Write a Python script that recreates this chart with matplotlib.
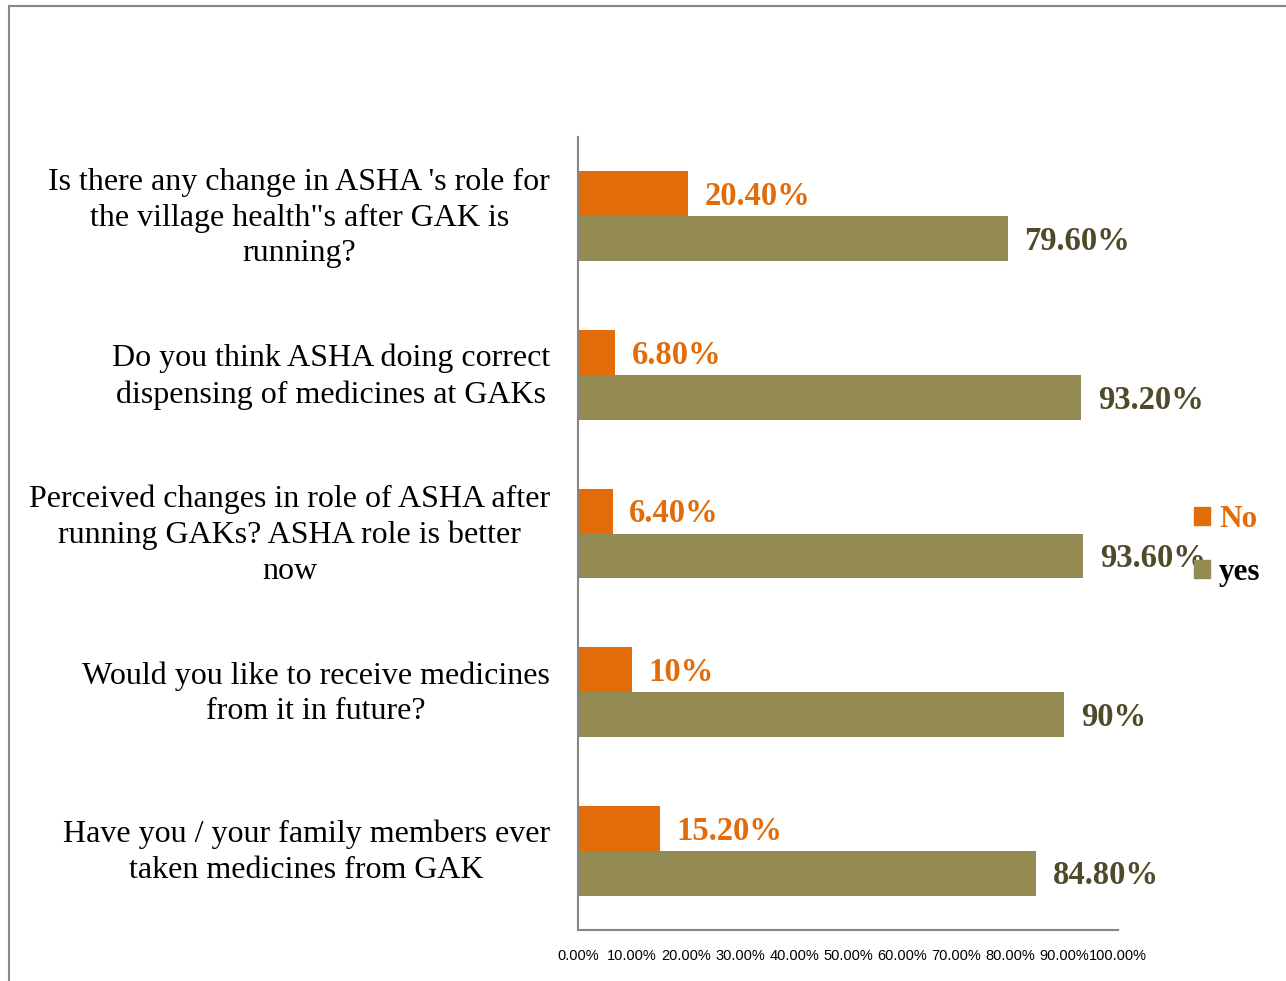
import matplotlib
matplotlib.use("Agg")
import matplotlib.pyplot as plt
import matplotlib.transforms as mtransforms
from matplotlib.patches import Patch
from matplotlib.lines import Line2D
import numpy as np

# datos (de arriba hacia abajo)
preguntas = [
    "Is there any change in ASHA 's role for\nthe village health\"s after GAK is\nrunning?",
    "Do you think ASHA doing correct\ndispensing of medicines at GAKs",
    "Perceived changes in role of ASHA after\nrunning GAKs? ASHA role is better\nnow",
    "Would you like to receive medicines\nfrom it in future?",
    "Have you / your family members ever\ntaken medicines from GAK",
]
no_vals = [0.204, 0.068, 0.064, 0.10, 0.152]
yes_vals = [0.796, 0.932, 0.936, 0.90, 0.848]
no_labels = ["20.40%", "6.80%", "6.40%", "10%", "15.20%"]
yes_labels = ["79.60%", "93.20%", "93.60%", "90%", "84.80%"]
x_ticks = np.arange(0, 1.01, 0.1)
x_tick_labels = ["0.00%", "10.00%", "20.00%", "30.00%", "40.00%", "50.00%",
                 "60.00%", "70.00%", "80.00%", "90.00%", "100.00%"]

c_no = "#E36C0A"
c_yes = "#948A54"
c_yes_txt = "#4F4A2A"
serif = ["Liberation Serif", "DejaVu Serif"]

W, H = 1286, 981
fig = plt.figure(figsize=(W / 100, H / 100), dpi=100)
ax = fig.add_axes([578 / W, 1 - 930 / H, 540 / W, 793 / H])

y = np.arange(len(preguntas))
alto = 45 / 159
ax.barh(y - alto / 2, no_vals, height=alto, color=c_no, label="No")
ax.barh(y + alto / 2, yes_vals, height=alto, color=c_yes, label="yes")

# etiquetas de los valores
for i in range(len(preguntas)):
    ax.annotate(no_labels[i], xy=(no_vals[i], y[i] - alto / 2), xytext=(12, -2),
                textcoords="offset points", va="center", ha="left",
                fontsize=23.5, fontweight="bold", color=c_no, family=serif)
    ax.annotate(yes_labels[i], xy=(yes_vals[i], y[i] + alto / 2), xytext=(12, -2),
                textcoords="offset points", va="center", ha="left",
                fontsize=23.5, fontweight="bold", color=c_yes_txt, family=serif)

ax.set_ylim(len(preguntas) - 0.5, -0.5)
ax.set_xlim(0, 1)
ax.set_yticks(y)
ax.set_yticklabels(preguntas, fontsize=23, family=serif, ma="center", linespacing=1.3)
ax.set_xticks(x_ticks)
ax.set_xticklabels(x_tick_labels, fontsize=10.5, family="Liberation Sans")
ax.tick_params(axis="y", length=0, pad=20)
ax.tick_params(axis="x", length=0, pad=14)

# subir un poco las etiquetas de las preguntas
subir = mtransforms.ScaledTranslation(0, 5 / 100, fig.dpi_scale_trans)
for lbl in ax.get_yticklabels():
    lbl.set_transform(lbl.get_transform() + subir)

for s in ["top", "right"]:
    ax.spines[s].set_visible(False)
for s in ["left", "bottom"]:
    ax.spines[s].set_color("#868686")
    ax.spines[s].set_linewidth(1.5)

# leyenda a la derecha
handles = [Patch(color=c_no), Patch(color=c_yes)]
leg = fig.legend(handles, ["No", "yes"], loc="center left",
                 bbox_to_anchor=(1194 / W, 1 - 546 / H), frameon=False,
                 prop={"family": serif, "size": 22.5, "weight": "bold"},
                 handlelength=0.5, handleheight=0.5, handletextpad=0.3,
                 labelspacing=0.75, borderpad=0, borderaxespad=0)
leg.get_texts()[0].set_color(c_no)
leg.get_texts()[1].set_color("black")

# borde del recuadro
fig.add_artist(Line2D([8.5 / W, 8.5 / W], [0, 1 - 5.5 / H], color="#868686", lw=1.5))
fig.add_artist(Line2D([8.5 / W, 1], [1 - 5.5 / H, 1 - 5.5 / H], color="#868686", lw=1.5))

fig.savefig("out.png", dpi=100)
